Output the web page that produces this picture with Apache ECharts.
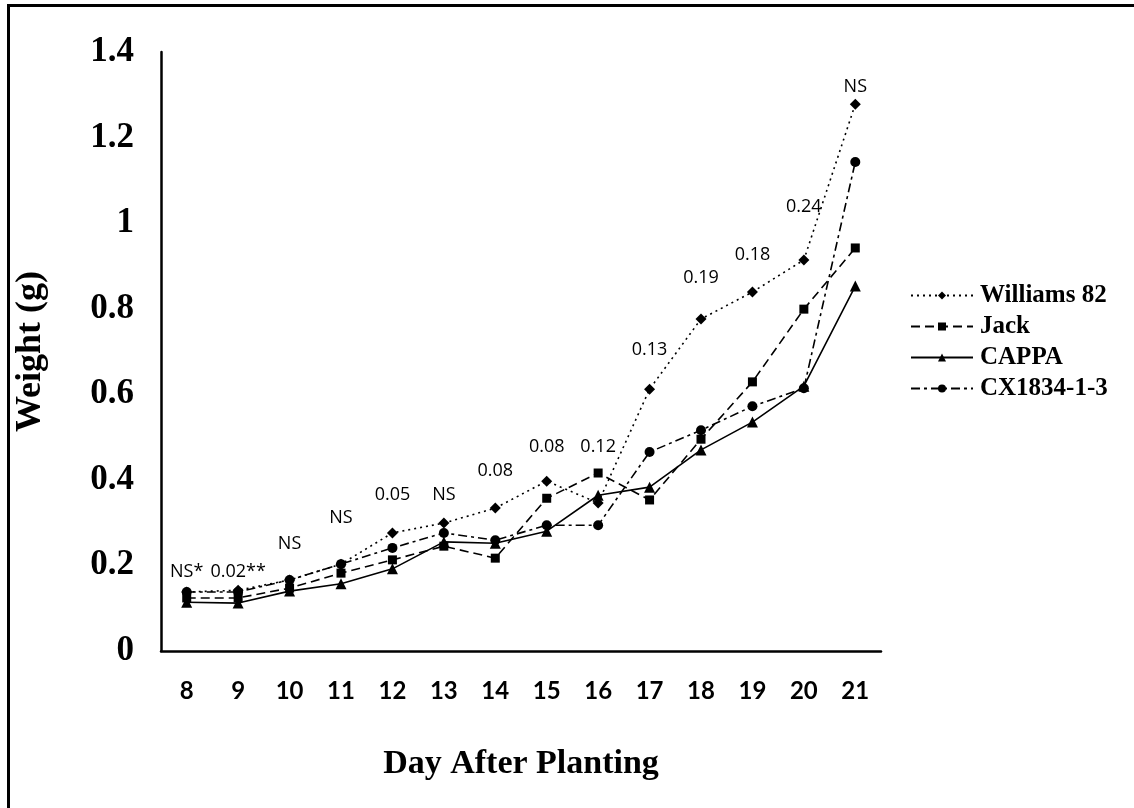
<!DOCTYPE html>
<html>
<head>
<meta charset="utf-8">
<script src="https://cdn.jsdelivr.net/npm/echarts@6/dist/echarts.min.js"></script>
<style>
html,body{margin:0;padding:0;background:#fff;}
#chart{width:1134px;height:808px;}
</style>
</head>
<body>
<div id="chart"></div>
<script>
var days = ['8','9','10','11','12','13','14','15','16','17','18','19','20','21'];
var williams82 = [0.138,0.142,0.166,0.203,0.276,0.299,0.334,0.397,0.346,0.612,0.776,0.839,0.914,1.278];
var jack       = [0.124,0.124,0.147,0.182,0.213,0.245,0.217,0.357,0.416,0.353,0.495,0.629,0.799,0.942];
var cappa      = [0.114,0.112,0.140,0.157,0.192,0.255,0.252,0.280,0.364,0.383,0.470,0.535,0.619,0.853];
var cx1834     = [0.138,0.138,0.166,0.203,0.241,0.276,0.259,0.294,0.294,0.465,0.516,0.572,0.614,1.143];
var pLabels    = ['NS*','0.02**','NS','NS','0.05','NS','0.08','0.08','0.12','0.13','0.19','0.18','0.24','NS'];
var pLabelY    = [0.185,0.185,0.250,0.310,0.365,0.365,0.422,0.476,0.476,0.703,0.871,0.925,1.037,1.318];
var yTicks     = ['0','0.2','0.4','0.6','0.8','1','1.2','1.4'];

var chart = echarts.init(document.getElementById('chart'));
var serif = 'Liberation Serif';

function lineSeries(name, data, symbol, size, dash) {
  return {
    name: name, type: 'line', data: data,
    symbol: symbol, symbolSize: size, showSymbol: true,
    itemStyle: {color: '#000'},
    lineStyle: {color: '#000', width: 1.6, type: dash},
    emphasis: {disabled: true},
    z: 3
  };
}

var annot = pLabels.map(function (t, i) { return [i, pLabelY[i], t]; });

chart.setOption({
  animation: false,
  backgroundColor: '#fff',
  grid: {left: 161, right: 253, top: 52, bottom: 157, containLabel: false},
  xAxis: {
    type: 'category', data: days, boundaryGap: true,
    axisLine: {lineStyle: {color: '#000', width: 2.5}},
    axisTick: {show: false},
    axisLabel: {color: '#000', fontFamily: 'Lato', fontWeight: 'bold', fontSize: 24, margin: 28},
    name: 'Day After Planting', nameLocation: 'middle', nameGap: 96,
    nameTextStyle: {color: '#000', fontFamily: serif, fontWeight: 'bold', fontSize: 34}
  },
  yAxis: {
    type: 'value', min: 0, max: 1.4, interval: 0.2,
    axisLine: {show: true, lineStyle: {color: '#000', width: 2.5}},
    axisTick: {show: false},
    splitLine: {show: false},
    axisLabel: {
      color: '#000', fontFamily: serif, fontWeight: 'bold', fontSize: 35, margin: 27,
      formatter: function (v) { return yTicks[Math.round(v / 0.2)]; }
    },
    name: 'Weight (g)', nameLocation: 'middle', nameGap: 112, nameRotate: 90,
    nameTextStyle: {color: '#000', fontFamily: serif, fontWeight: 'bold', fontSize: 36}
  },
  legend: {
    data: ['Williams 82', 'Jack', 'CAPPA', 'CX1834-1-3'],
    orient: 'vertical', left: 905, top: 278,
    itemWidth: 62, itemHeight: 10, itemGap: 6,
    textStyle: {color: '#000', fontFamily: serif, fontWeight: 'bold', fontSize: 25, lineHeight: 25, padding: [0,0,0,2]},
    selectedMode: false
  },
  graphic: [{
    type: 'polyline',
    shape: {points: [[8.5, 808], [8.5, 5.5], [1134, 5.5]]},
    style: {stroke: '#000', lineWidth: 3, fill: null},
    silent: true
  }],
  series: [
    lineSeries('Williams 82', williams82, 'diamond', 11, [2, 4]),
    lineSeries('Jack', jack, 'rect', 9, [9, 5]),
    lineSeries('CAPPA', cappa, 'triangle', 11, 'solid'),
    lineSeries('CX1834-1-3', cx1834, 'circle', 10, [9, 4, 3, 4]),
    {
      name: 'annot', type: 'scatter', data: annot, symbolSize: 0,
      itemStyle: {color: '#000', opacity: 1},
      label: {
        show: true, position: 'inside', color: '#000', opacity: 1,
        fontFamily: 'Open Sans', fontSize: 18,
        formatter: function (p) { return p.data[2]; }
      },
      emphasis: {disabled: true}, silent: true, z: 4
    }
  ]
});
</script>
</body>
</html>
